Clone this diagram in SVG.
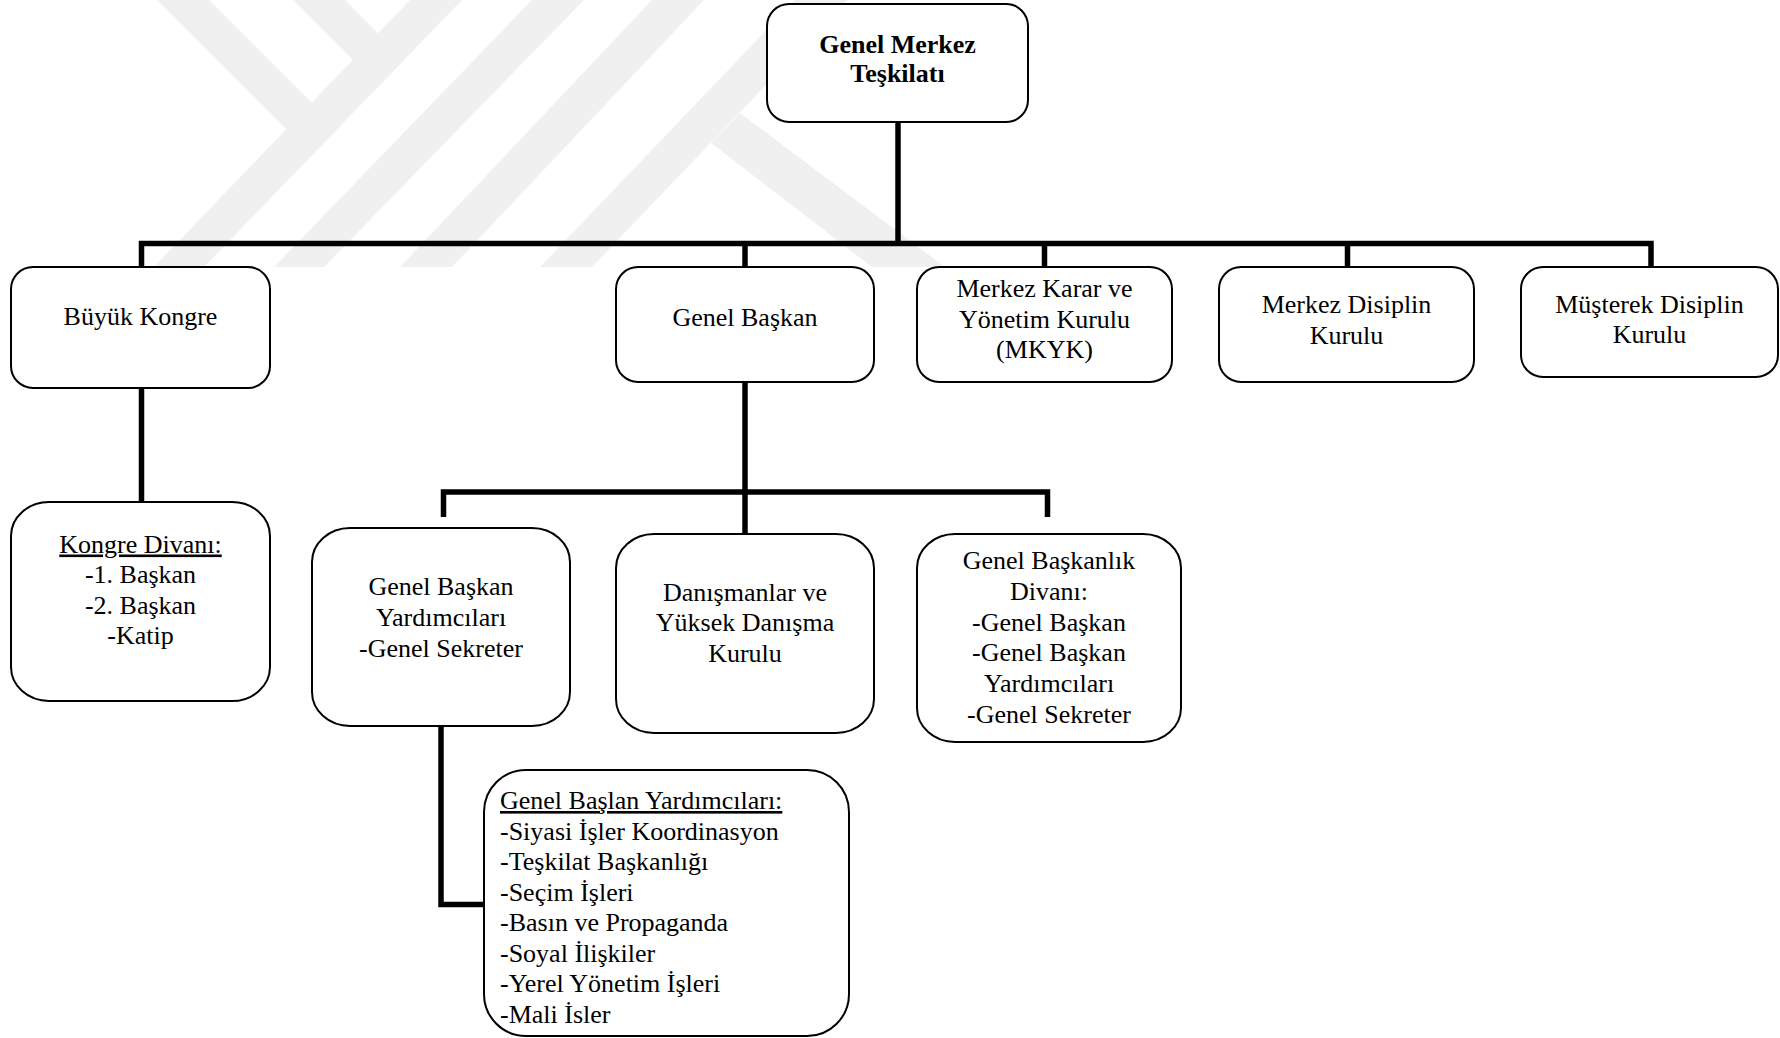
<svg xmlns="http://www.w3.org/2000/svg" width="1780" height="1038" viewBox="0 0 1780 1038">
  <style>
    .box { fill: #ffffff; stroke: #000000; stroke-width: 2; }
    .t { font-family: "Liberation Serif", "Times New Roman", serif; font-size: 26px; fill: #000000; text-anchor: middle; }
    .b { font-weight: bold; }
    .l { text-anchor: start; }
    .u { text-decoration: underline; }
    .conn { fill: none; stroke: #000000; stroke-width: 5.5; stroke-linejoin: miter; stroke-linecap: butt; }
    .wm { fill: #f0f0f0; stroke: none; }
  </style>
  <rect x="0" y="0" width="1780" height="1038" fill="#ffffff"/>

  <g id="watermark">
    <polygon class="wm" points="157,0 209,0 338,129 312,155"/>
    <polygon class="wm" points="293,0 345,0 404,60 379,86"/>
    <polygon class="wm" points="410,0 462,0 204,267 154,267"/>
    <polygon class="wm" points="532,0 584,0 324,267 274,267"/>
    <polygon class="wm" points="652,0 704,0 452,267 400,267"/>
    <polygon class="wm" points="795,0 847,0 592,267 540,267"/>
    <polygon class="wm" points="711,143 740,113 945,267 872,267"/>
  </g>

  <g id="connectors">
    <path class="conn" d="M898,122 V243.5"/>
    <path class="conn" d="M141.5,267 V243.5 H1651 V267"/>
    <path class="conn" d="M745,243.5 V267"/>
    <path class="conn" d="M1044.5,243.5 V267"/>
    <path class="conn" d="M1347.5,243.5 V267"/>
    <path class="conn" d="M141.5,388 V502"/>
    <path class="conn" d="M745,382 V534"/>
    <path class="conn" d="M443.5,517 V492 H1047.5 V517"/>
    <path class="conn" d="M441,726 V904.5 H484"/>
  </g>

  <g id="node-genel-merkez">
    <rect class="box" x="767" y="4" width="261" height="118" rx="22" ry="22"/>
    <text class="t b" x="897.5" y="53">Genel Merkez</text>
    <text class="t b" x="897.5" y="82">Teşkilatı</text>
  </g>

  <g id="node-buyuk-kongre">
    <rect class="box" x="11" y="267" width="259" height="121" rx="22" ry="22"/>
    <text class="t" x="140.5" y="325">Büyük Kongre</text>
  </g>

  <g id="node-genel-baskan">
    <rect class="box" x="616" y="267" width="258" height="115" rx="22" ry="22"/>
    <text class="t" x="745" y="326">Genel Başkan</text>
  </g>

  <g id="node-mkyk">
    <rect class="box" x="917" y="267" width="255" height="115" rx="22" ry="22"/>
    <text class="t" x="1044.5" y="297">Merkez Karar ve</text>
    <text class="t" x="1044.5" y="327.5">Yönetim Kurulu</text>
    <text class="t" x="1044.5" y="358">(MKYK)</text>
  </g>

  <g id="node-merkez-disiplin">
    <rect class="box" x="1219" y="267" width="255" height="115" rx="22" ry="22"/>
    <text class="t" x="1346.5" y="313">Merkez Disiplin</text>
    <text class="t" x="1346.5" y="343.5">Kurulu</text>
  </g>

  <g id="node-musterek-disiplin">
    <rect class="box" x="1521" y="267" width="257" height="110" rx="22" ry="22"/>
    <text class="t" x="1649.5" y="313">Müşterek Disiplin</text>
    <text class="t" x="1649.5" y="343">Kurulu</text>
  </g>

  <g id="node-kongre-divani">
    <rect class="box" x="11" y="502" width="259" height="199" rx="38" ry="34"/>
    <text class="t u" x="140.5" y="552.5">Kongre Divanı:</text>
    <text class="t" x="140.5" y="583">-1. Başkan</text>
    <text class="t" x="140.5" y="613.5">-2. Başkan</text>
    <text class="t" x="140.5" y="644">-Katip</text>
  </g>

  <g id="node-gb-yardimcilari">
    <rect class="box" x="312" y="528" width="258" height="198" rx="38" ry="34"/>
    <text class="t" x="441" y="594.5">Genel Başkan</text>
    <text class="t" x="441" y="625.5">Yardımcıları</text>
    <text class="t" x="441" y="656.5">-Genel Sekreter</text>
  </g>

  <g id="node-danismanlar">
    <rect class="box" x="616" y="534" width="258" height="199" rx="38" ry="34"/>
    <text class="t" x="745" y="600.5">Danışmanlar ve</text>
    <text class="t" x="745" y="631">Yüksek Danışma</text>
    <text class="t" x="745" y="661.5">Kurulu</text>
  </g>

  <g id="node-gb-divani">
    <rect class="box" x="917" y="534" width="264" height="208" rx="38" ry="34"/>
    <text class="t" x="1049" y="569">Genel Başkanlık</text>
    <text class="t" x="1049" y="599.5">Divanı:</text>
    <text class="t" x="1049" y="630.5">-Genel Başkan</text>
    <text class="t" x="1049" y="661">-Genel Başkan</text>
    <text class="t" x="1049" y="691.5">Yardımcıları</text>
    <text class="t" x="1049" y="722.5">-Genel Sekreter</text>
  </g>

  <g id="node-gb-yardimcilari-listesi">
    <rect class="box" x="484" y="770" width="365" height="266" rx="42" ry="42"/>
    <text class="t l u" x="500" y="809">Genel Başlan Yardımcıları:</text>
    <text class="t l" x="500" y="839.5">-Siyasi İşler Koordinasyon</text>
    <text class="t l" x="500" y="870">-Teşkilat Başkanlığı</text>
    <text class="t l" x="500" y="900.5">-Seçim İşleri</text>
    <text class="t l" x="500" y="931">-Basın ve Propaganda</text>
    <text class="t l" x="500" y="961.5">-Soyal İlişkiler</text>
    <text class="t l" x="500" y="992">-Yerel Yönetim İşleri</text>
    <text class="t l" x="500" y="1022.5">-Mali İsler</text>
  </g>
</svg>
